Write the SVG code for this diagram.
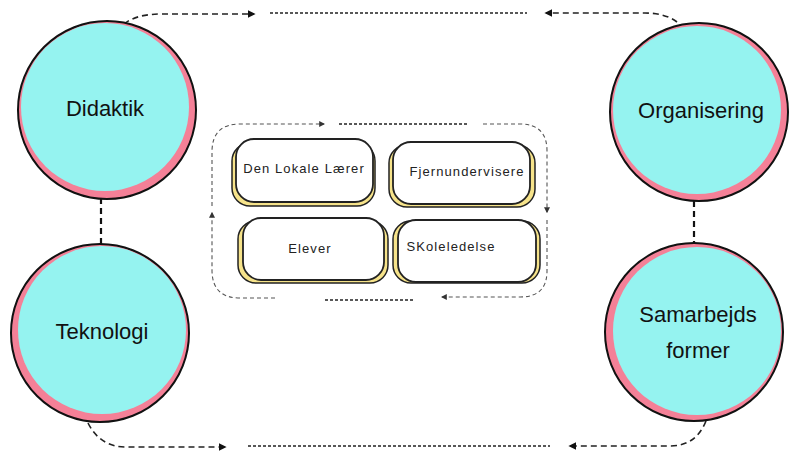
<svg xmlns="http://www.w3.org/2000/svg" width="799" height="458" viewBox="0 0 799 458">
<defs>
<style>
.ring{fill:#f48097;stroke:#111;stroke-width:2}
.core{fill:#95f3f0}
.big{font-family:"Liberation Sans",Arial,sans-serif;font-size:22px;fill:#111;text-anchor:middle;dominant-baseline:central}
.small{font-family:"Liberation Sans",Arial,sans-serif;font-size:13px;fill:#222;text-anchor:middle;dominant-baseline:central;letter-spacing:1.1px}
.shadow{fill:#f6e38a;stroke:#222;stroke-width:1.5}
.card{fill:#fff;stroke:#222;stroke-width:1.8}
.thick{fill:none;stroke:#222;stroke-width:1.6;stroke-dasharray:6 4}
.fine{fill:none;stroke:#222;stroke-width:1.3;stroke-dasharray:3 2}
.loop{fill:none;stroke:#555;stroke-width:1.1;stroke-dasharray:4 3}
.loopd{fill:none;stroke:#222;stroke-width:1.3;stroke-dasharray:3 2}
.link{fill:none;stroke:#111;stroke-width:2.2;stroke-dasharray:6 4}
</style>
<marker id="ah" viewBox="0 0 10 10" refX="8" refY="5" markerWidth="8" markerHeight="8" markerUnits="userSpaceOnUse" orient="auto">
<path d="M0 0 L10 5 L0 10 Z" fill="#111"/>
</marker>
<marker id="ahs" viewBox="0 0 10 10" refX="8" refY="5" markerWidth="6" markerHeight="6" markerUnits="userSpaceOnUse" orient="auto">
<path d="M0 0 L10 5 L0 10 Z" fill="#333"/>
</marker>
</defs>
<g id="connectors">
<line class="link" x1="101" y1="198" x2="101" y2="245"/>
<line class="link" x1="694" y1="201" x2="694" y2="243"/>
<path class="thick" d="M124 24 Q136 14 162 14 L254 14" marker-end="url(#ah)"/>
<line class="fine" x1="270" y1="13" x2="527" y2="13"/>
<path class="thick" d="M677 22 Q665 13 645 13 L546 13" marker-end="url(#ah)"/>
<path class="thick" d="M88 423 Q100 447 126 447 L225 447" marker-end="url(#ah)"/>
<line class="fine" x1="248" y1="446" x2="550" y2="446"/>
<path class="thick" d="M706 421 Q696 446 670 446 L570 446" marker-end="url(#ah)"/>
<path class="loop" d="M212 206 L212 152 Q212 124 240 124 L324 124" marker-end="url(#ahs)"/>
<line class="loopd" x1="339" y1="124" x2="467" y2="124"/>
<path class="loop" d="M483 124 L520 124 Q547 124 547 151 L547 212" marker-end="url(#ahs)"/>
<path class="loop" d="M547 220 L547 271 Q547 297 520 297 L442 297" marker-end="url(#ahs)"/>
<line class="loopd" x1="325" y1="300" x2="413" y2="300"/>
<path class="loop" d="M275 298 L240 298 Q212 298 212 270 L212 213" marker-end="url(#ahs)"/>
</g>
<g id="didaktik">
<circle class="ring" cx="107" cy="110" r="89"/>
<circle class="core" cx="105" cy="107" r="84"/>
<text class="big" x="105" y="108">Didaktik</text>
</g>
<g id="teknologi">
<circle class="ring" cx="100" cy="333" r="89"/>
<circle class="core" cx="102" cy="330" r="84"/>
<text class="big" x="102" y="331">Teknologi</text>
</g>
<g id="organisering">
<circle class="ring" cx="699" cy="112" r="89"/>
<circle class="core" cx="697" cy="110" r="84"/>
<text class="big" x="701" y="110">Organisering</text>
</g>
<g id="samarbejds">
<circle class="ring" cx="694" cy="332" r="89"/>
<circle class="core" cx="697" cy="331" r="84"/>
<text class="big" x="698" y="314">Samarbejds</text>
<text class="big" x="698" y="350">former</text>
</g>
<g id="den-lokale-laerer">
<rect class="shadow" x="232" y="143" width="143" height="63" rx="18"/>
<rect class="card" x="236" y="139" width="137" height="63" rx="18"/>
<text class="small" x="304" y="168">Den Lokale Lærer</text>
</g>
<g id="fjernundervisere">
<rect class="shadow" x="389" y="145" width="146" height="62" rx="18"/>
<rect class="card" x="393" y="142" width="137" height="62" rx="18"/>
<text class="small" x="467" y="171">Fjernundervisere</text>
</g>
<g id="elever">
<rect class="shadow" x="238" y="221" width="150" height="62" rx="18"/>
<rect class="card" x="243" y="218" width="141" height="62" rx="18"/>
<text class="small" x="310" y="248">Elever</text>
</g>
<g id="skoleledelse">
<rect class="shadow" x="393" y="221" width="147" height="62" rx="18"/>
<rect class="card" x="398" y="220" width="138" height="62" rx="18"/>
<text class="small" x="451" y="246">SKoleledelse</text>
</g>
</svg>
